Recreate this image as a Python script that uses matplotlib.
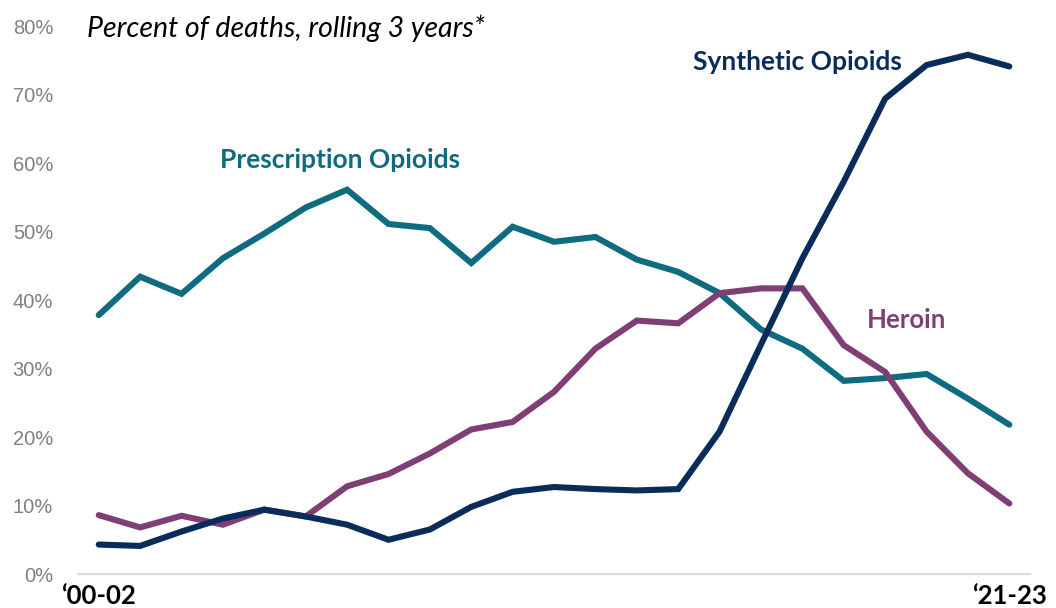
import matplotlib
matplotlib.use('Agg')
import matplotlib.pyplot as plt
import numpy as np

# ── Data: share of opioid deaths by type, rolling 3-year windows ──────────────
periods = ["\u201800-02"] + [""] * 21 + ["\u201821-23"]

prescription = [37.8, 43.4, 40.9, 46.1, 49.7, 53.5, 56.1, 51.1, 50.5, 45.4,
                50.7, 48.5, 49.2, 45.9, 44.1, 41.0, 35.7, 32.9, 28.2, 28.6,
                29.2, 25.6, 21.8]
synthetic    = [4.3, 4.1, 6.2, 8.1, 9.4, 8.4, 7.2, 5.0, 6.5, 9.8,
                12.0, 12.7, 12.4, 12.2, 12.4, 20.8, 33.5, 46.1, 57.3, 69.4,
                74.3, 75.8, 74.1]
heroin       = [8.6, 6.8, 8.5, 7.2, 9.4, 8.4, 12.8, 14.6, 17.6, 21.1,
                22.2, 26.6, 32.9, 37.0, 36.6, 41.0, 41.7, 41.7, 33.4, 29.5,
                20.8, 14.7, 10.3]

yticks = [0, 10, 20, 30, 40, 50, 60, 70, 80]

TEAL   = '#0F6B80'
NAVY   = '#0A2C5B'
PURPLE = '#7F3F74'

fig = plt.figure(figsize=(10.56, 6.08), dpi=100)
ax = fig.add_axes([0.0739, 0.0559, 0.9015, 0.9013])

x = np.arange(len(periods))
ax.plot(x, prescription, color=TEAL, lw=4.4, solid_capstyle='round', solid_joinstyle='miter')
ax.plot(x, heroin, color=PURPLE, lw=4.4, solid_capstyle='round', solid_joinstyle='miter')
ax.plot(x, synthetic, color=NAVY, lw=4.4, solid_capstyle='round', solid_joinstyle='miter')

ax.set_xlim(-0.5, len(periods) - 0.5)
ax.set_ylim(0, 80)

ax.set_yticks(yticks)
ax.set_yticklabels([f'{v}%' for v in yticks], color='#808080',
                   fontsize=14.5, family='Liberation Sans')
ax.tick_params(axis='y', length=0, pad=18)
ax.tick_params(axis='x', length=0)
ax.set_xticks([])

for side in ['top', 'right', 'left']:
    ax.spines[side].set_visible(False)
ax.spines['bottom'].set_color('#D9D9D9')
ax.spines['bottom'].set_linewidth(1.5)

# end labels under the axis
ax.text(0, -1.4, periods[0], ha='center', va='top', fontsize=18.5,
        fontweight='bold', family='Lato', color='black')
ax.text(len(periods) - 1, -1.4, periods[-1], ha='center', va='top', fontsize=18.5,
        fontweight='bold', family='Lato', color='black')

# series labels
ax.text(2.93, 60.4, 'Prescription Opioids', fontsize=19, fontweight='bold',
        family='Lato', color=TEAL, va='center')
ax.text(14.35, 74.7, 'Synthetic Opioids', fontsize=19, fontweight='bold',
        family='Lato', color=NAVY, va='center')
ax.text(18.56, 37.1, 'Heroin', fontsize=18.5, fontweight='bold',
        family='Lato', color=PURPLE, va='center')

fig.text(87 / 1056, 1 - 28 / 608, 'Percent of deaths, rolling 3 years*',
         fontsize=20.5, style='italic', family='Lato', va='center', ha='left')

fig.savefig('out.png', dpi=100)
